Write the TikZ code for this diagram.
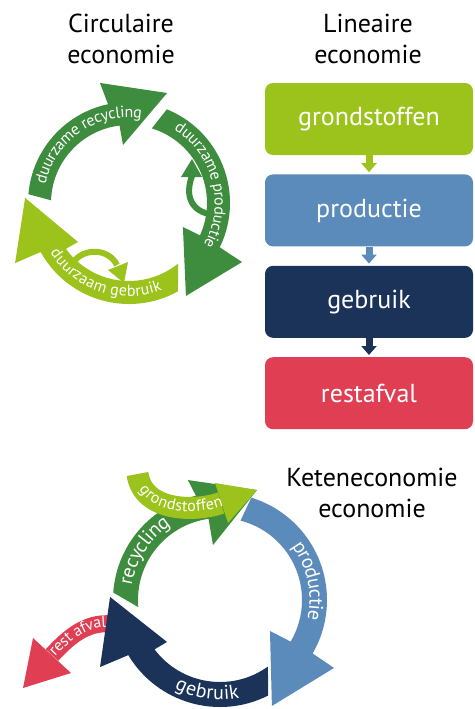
\documentclass[tikz,border=0pt]{standalone}
\usepackage{fontspec}
\setmainfont{PT Sans}
\usetikzlibrary{arrows.meta,positioning,decorations.text}
\definecolor{ecoGreen}{HTML}{3E8C3E}
\definecolor{ecoLime}{HTML}{9CC31B}
\definecolor{ecoBlue}{HTML}{5B8BBB}
\definecolor{ecoNavy}{HTML}{1B3358}
\definecolor{ecoRed}{HTML}{E03E52}
\newcommand{\bandsmall}{\fontsize{16}{16}\selectfont}
\newcommand{\bandbig}{\fontsize{20}{20}\selectfont}
\tikzset{
    %Define style for titles
    title/.style={
           align=center,
           font=\fontsize{26}{31}\selectfont},
    %Define style for boxes
    box/.style={
           rectangle,
           rounded corners=8pt,
           minimum width=208pt,
           minimum height=72pt,
           text=white,
           font=\fontsize{26}{26}\selectfont},
    % Define arrow style
    pijl/.style={
           line width=7pt,
           -{Triangle[width=15pt,length=9pt]},
           shorten >=2pt},
    %white text along a band
    ringlabel/.style={
           decorate,
           decoration={text along path, text align=center, text color=white}},
    turn/.style={
           line width=6pt}
}
\begin{document}
\begin{tikzpicture}[x=1pt,y=1pt,node distance=19pt]
\useasboundingbox (0,0) rectangle (474,-709);
 %titles
\node[title](t1) at (121,-39){Circulaire\\economie};
\node[title](t2) at (368,-39){Lineaire\\economie};
\node[title](t3) at (372,-493){Keteneconomie\\economie};
 %linear chain
\node[box, fill=ecoLime](1) at (369,-119){grondstoffen};
\node[box, fill=ecoBlue, below=of 1](2){productie};
\node[box, fill=ecoNavy, below=of 2](3){gebruik};
\node[box, fill=ecoRed, below=of 3](4){restafval};
 \path (1) edge[pijl, ecoLime] (2)
    (2) edge[pijl, ecoBlue] (3)
    (3) edge[pijl, ecoNavy] (4);
 %circular economy
\begin{scope}[shift={(129,-203)}]
\fill[ecoGreen] (175:101) arc[start angle=175, end angle=102, radius=101pt]
  -- (103.6:123.5) -- (70.9:116.4) -- (95.9:58.3)
  -- (97:78) arc[start angle=97, end angle=178, radius=78pt] -- cycle;
\fill[ecoGreen] (68:101) arc[start angle=68, end angle=-26, radius=101pt]
  -- (-27.6:127.5) -- (-58.5:109) -- (-24:59)
  -- (-24.5:78) arc[start angle=-24.5, end angle=73, radius=78pt] -- cycle;
\fill[ecoLime] (-61:101) arc[start angle=-61, end angle=-151, radius=101pt]
  -- (-152.2:128.8) -- (177.2:104) -- (-142.6:64.2)
  -- (-144:78) arc[start angle=-144, end angle=-51, radius=78pt] -- cycle;
\path[ringlabel, decoration={raise=-3.8pt, text={|\bandsmall|duurzame recycling}}]
  (177:89.5) arc[start angle=177, end angle=72, radius=89.5pt];
\path[ringlabel, decoration={raise=-3.8pt, text={|\bandsmall|duurzame productie}}]
  (67:89.5) arc[start angle=67, end angle=-38, radius=89.5pt];
\path[ringlabel, decoration={raise=-3.8pt, text={|\bandsmall|duurzaam gebruik}}]
  (198:89.5) arc[start angle=198, end angle=305, radius=89.5pt];
\end{scope}
\draw[turn, ecoGreen] (214,-215) .. controls (190,-212) and (185,-195) .. (192,-176);
\fill[ecoGreen] (181,-177) -- (202,-177) -- (192,-159) -- cycle;
\draw[turn, ecoLime] (70,-267) .. controls (80,-247) and (108,-247) .. (117,-265);
\fill[ecoLime] (108,-270) -- (128,-262) -- (124,-283) -- cycle;
 %chain economy
\begin{scope}[shift={(220,-600)}]
\fill[ecoGreen] (176:107) arc[start angle=176, end angle=103, radius=107pt]
  -- (105:124.2) -- (71.4:116) -- (97.3:55.4)
  -- (98:82) arc[start angle=98, end angle=185, radius=82pt] -- cycle;
\fill[ecoBlue] (73:107) arc[start angle=73, end angle=-30, radius=107pt]
  -- (-30.8:132.7) -- (-63.9:118) -- (-31.8:58.8)
  -- (-30.5:82) arc[start angle=-30.5, end angle=75.5, radius=82pt] -- cycle;
\end{scope}
\draw[ecoRed, line width=17pt] (112,-624) .. controls (85,-621) and (66,-640) .. (52,-655);
\fill[ecoRed] (33,-638) -- (71,-673) -- (23,-688) -- cycle;
\begin{scope}[shift={(220,-600)}]
\fill[ecoNavy] (-63.3:107) arc[start angle=-63.3, end angle=-149, radius=107pt]
  -- (-150.8:137.4) -- (178.4:110) -- (-141.6:67.6)
  -- (-143:82) arc[start angle=-143, end angle=-54.2, radius=82pt] -- cycle;
\path[ringlabel, decoration={raise=-5pt, text={|\bandbig|recycling}}]
  (185:94.5) arc[start angle=185, end angle=109, radius=94.5pt];
\path[ringlabel, decoration={raise=-5pt, text={|\bandbig|productie}}]
  (50:94.5) arc[start angle=50, end angle=-26, radius=94.5pt];
\path[ringlabel, decoration={raise=-5pt, text={|\bandbig|gebruik}}]
  (225:94.5) arc[start angle=225, end angle=299, radius=94.5pt];
\end{scope}
\path[decorate, decoration={text along path, text align={left indent=1pt}, text color=white,
  raise=-3.5pt, text={|\bandsmall|rest afval}}]
  (52,-655) .. controls (66,-640) and (85,-621) .. (112,-624);
\draw[ecoLime, line width=22pt] (137.5,-474) .. controls (143,-512) and (195,-512) .. (221,-503);
\fill[ecoLime] (215,-483) -- (257,-490) -- (228,-523) -- cycle;
\path[decorate, decoration={text along path, text align={left indent=14pt}, text color=white,
  raise=-3.5pt, text={|\bandsmall|grondstoffen}}]
  (137.5,-474) .. controls (143,-512) and (195,-512) .. (221,-503) -- (260,-490);
\end{tikzpicture}
\end{document}
